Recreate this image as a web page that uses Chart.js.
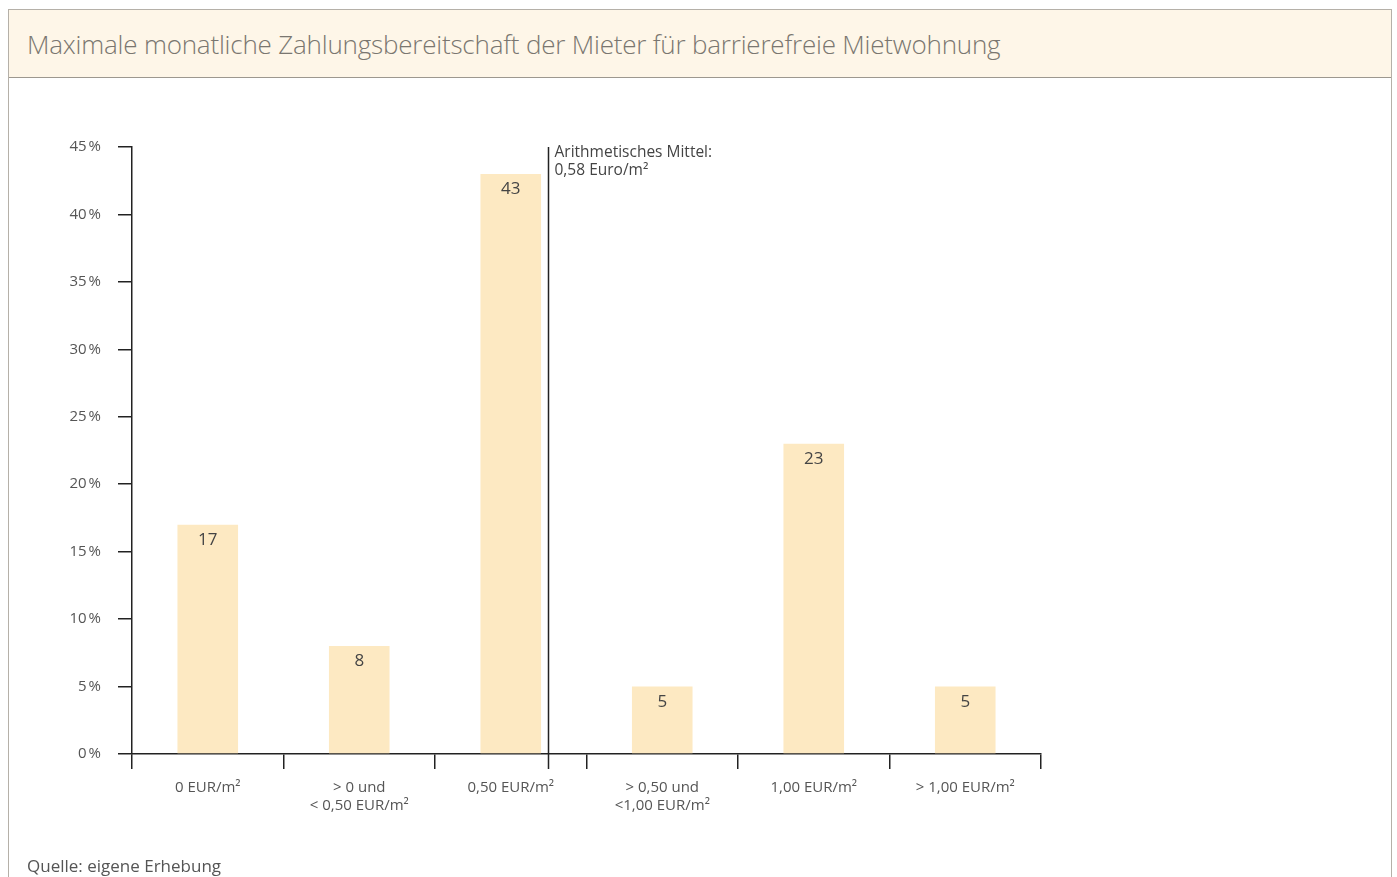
<!DOCTYPE html>
<html lang="de">
<head>
<meta charset="utf-8">
<title>Zahlungsbereitschaft barrierefreie Mietwohnung</title>
<script src="https://cdn.jsdelivr.net/npm/chart.js@4"></script>
<style>
  html, body { margin: 0; padding: 0; background: #fff; }
  body { width: 1397px; height: 877px; position: relative; overflow: hidden; font-family: "Open Sans", sans-serif; }
  .rahmen { position: absolute; left: 8px; top: 9px; width: 1382px; height: 900px; border: 1px solid #b5b0a8; border-bottom: none; }
  .kopf { position: absolute; left: 9px; top: 10px; width: 1382px; height: 67px; background: #fef6e8; border-bottom: 1px solid #9d988f; }
  .kopf h1 { margin: 0; position: absolute; left: 18px; top: 16px; font-size: 26px; font-weight: 300; color: #7a7670; white-space: nowrap; letter-spacing: -0.2px; }
  .quelle { position: absolute; left: 27px; top: 854px; font-size: 17px; color: #555; }
  #wrap { position: absolute; left: 0; top: 0; width: 1397px; height: 877px; }
</style>
</head>
<body>
<div class="rahmen"></div>
<div class="kopf"><h1>Maximale monatliche Zahlungsbereitschaft der Mieter für barrierefreie Mietwohnung</h1></div>
<div id="wrap"><canvas id="chart"></canvas></div>
<div class="quelle">Quelle: eigene Erhebung</div>

<script>
// Kategorien und Anteile in Prozent
const kategorien = [
  "0 EUR/m²",
  ["> 0 und", "< 0,50 EUR/m²"],
  "0,50 EUR/m²",
  ["> 0,50 und", "<1,00 EUR/m²"],
  "1,00 EUR/m²",
  "> 1,00 EUR/m²"
];
const anteile = [17, 8, 43, 5, 23, 5];

// Mittelwert und seine Lage auf der Kategorienachse
const mittelText = ["Arithmetisches Mittel:", "0,58 Euro/m²"];
const mittelPos = 2.245;

const yMax = 45;
const yStep = 5;

const schrift = '"Open Sans", sans-serif';

// Zahlen oben in die Balken schreiben
const balkenWerte = {
  id: 'balkenWerte',
  afterDatasetsDraw(chart) {
    const ctx = chart.ctx;
    const meta = chart.getDatasetMeta(0);
    ctx.save();
    ctx.font = '17px ' + schrift;
    ctx.fillStyle = '#444';
    ctx.textAlign = 'center';
    ctx.textBaseline = 'top';
    meta.data.forEach((bar, i) => {
      ctx.fillText(String(anteile[i]), bar.x, bar.y + 7);
    });
    ctx.restore();
  }
};

// senkrechte Linie für das arithmetische Mittel
const mittelLinie = {
  id: 'mittelLinie',
  afterDraw(chart) {
    const ctx = chart.ctx;
    const x = Math.round(chart.scales.x.getPixelForValue(mittelPos)) + 0.5;
    const y = chart.scales.y;
    ctx.save();
    ctx.strokeStyle = '#222';
    ctx.lineWidth = 1.5;
    ctx.beginPath();
    ctx.moveTo(x, y.getPixelForValue(yMax));
    ctx.lineTo(x, y.bottom + 15);
    ctx.stroke();
    ctx.font = '15.5px ' + schrift;
    ctx.fillStyle = '#444';
    ctx.textAlign = 'left';
    ctx.textBaseline = 'top';
    mittelText.forEach((t, i) => ctx.fillText(t, x + 6, y.getPixelForValue(yMax) - 2 + i * 18));
    ctx.restore();
  }
};

new Chart(document.getElementById('chart'), {
  type: 'bar',
  data: {
    labels: kategorien,
    datasets: [{
      data: anteile,
      backgroundColor: '#fde9c2',
      borderWidth: 0,
      barPercentage: 0.4,
      categoryPercentage: 1
    }]
  },
  options: {
    responsive: true,
    maintainAspectRatio: false,
    animation: false,
    layout: { padding: { left: 0, top: 147, right: 356, bottom: 0 } },
    plugins: {
      legend: { display: false },
      tooltip: { enabled: false }
    },
    scales: {
      x: {
        afterFit(s) { s.height = 123; },
        grid: { display: true, offset: true, drawOnChartArea: false, tickLength: 15, color: '#222', lineWidth: 1.5 },
        border: { display: true, color: '#222', width: 1.5 },
        ticks: { color: '#555', font: { family: schrift, size: 15, lineHeight: 1.25 }, padding: 9, maxRotation: 0, autoSkip: false }
      },
      y: {
        min: 0,
        max: yMax,
        afterFit(s) { s.width = 132; },
        grid: { display: true, drawOnChartArea: false, tickLength: 14, color: '#222', lineWidth: 1.5 },
        border: { display: true, color: '#222', width: 1.5 },
        ticks: {
          stepSize: yStep,
          color: '#555',
          font: { family: schrift, size: 15 },
          padding: 17,
          callback: v => v + '\u202f%'
        }
      }
    }
  },
  plugins: [balkenWerte, mittelLinie]
});
</script>
</body>
</html>
